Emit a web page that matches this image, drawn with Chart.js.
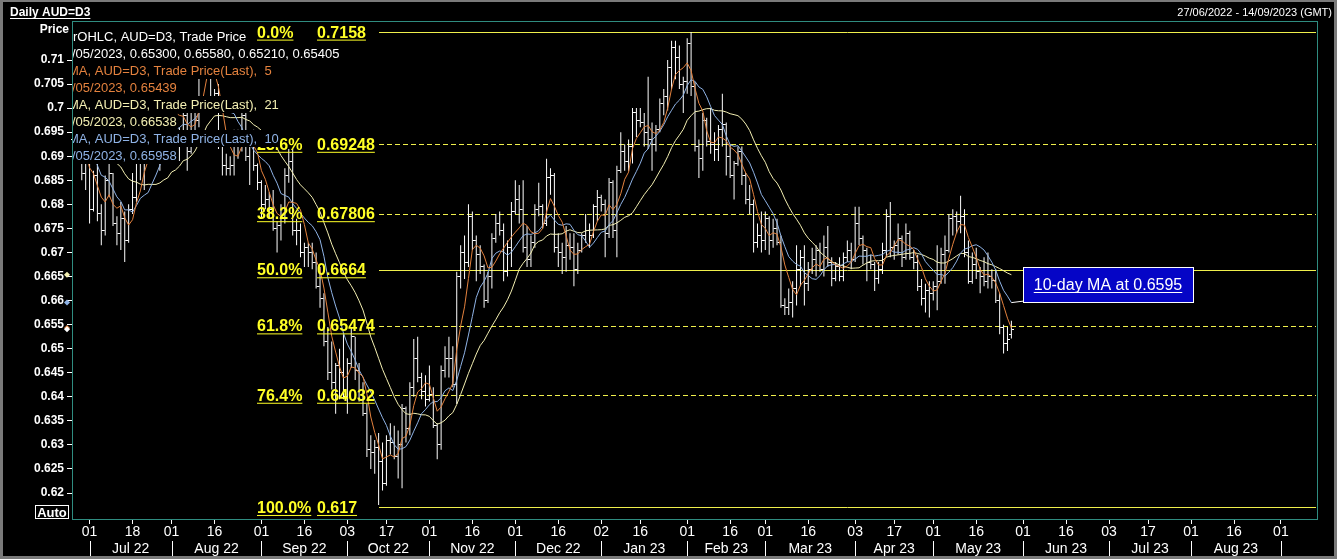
<!DOCTYPE html>
<html>
<head>
<meta charset="utf-8">
<script src="https://cdn.jsdelivr.net/npm/chart.js@4.4.0/dist/chart.umd.min.js"></script>
<style>
  html, body { margin: 0; padding: 0; background: #000; }
  canvas { display: block; }
</style>
</head>
<body>
<canvas id="myChart" width="1337" height="559"></canvas>
<script>
// axis domain -------------------------------------
const firstDay = '2022-06-27';
const lastDay = '2023-09-14';

const xTickDates = ['2022-07-01', '2022-07-18', '2022-08-01', '2022-08-16', '2022-09-01', '2022-09-16',
  '2022-10-03', '2022-10-17', '2022-11-01', '2022-11-16', '2022-12-01', '2022-12-16', '2023-01-02',
  '2023-01-16', '2023-02-01', '2023-02-16', '2023-03-01', '2023-03-16', '2023-04-03', '2023-04-17',
  '2023-05-01', '2023-05-16', '2023-06-01', '2023-06-16', '2023-07-03', '2023-07-17', '2023-08-01',
  '2023-08-16', '2023-09-01'];
const monthStarts = ['2022-07-01', '2022-08-01', '2022-09-01', '2022-10-03', '2022-11-01', '2022-12-01',
  '2023-01-02', '2023-02-01', '2023-03-01', '2023-04-03', '2023-05-01', '2023-06-01', '2023-07-03',
  '2023-08-01', '2023-09-01'];
const monthLabels = ['Jul 22', 'Aug 22', 'Sep 22', 'Oct 22', 'Nov 22', 'Dec 22', 'Jan 23', 'Feb 23',
  'Mar 23', 'Apr 23', 'May 23', 'Jun 23', 'Jul 23', 'Aug 23'];
const yTicks = [0.62, 0.625, 0.63, 0.635, 0.64, 0.645, 0.65, 0.655, 0.66, 0.665, 0.67, 0.675, 0.68,
  0.685, 0.69, 0.695, 0.7, 0.705, 0.71];

// daily bars, 27/06/2022 .. 29/05/2023 ------------------------
const opens = [
  .6935, .6920, .6905, .6865, .6900, .6790, .6860, .6780, .6745, .6850,
  .6865, .6760, .6740, .6770, .6725, .6790, .6815, .6915, .6895, .6915,
  .6920, .6945, .6920, .6970, .6995, .6990, .7045, .6950, .6945, .6985,
  .6910, .7015, .6975, .7085, .7110, .7125, .7020, .7030, .6935, .6880,
  .6875, .6880, .6945, .6920, .6985, .6900, .6925, .6880, .6845, .6800,
  .6810, .6790, .6750, .6755, .6770, .6860, .6890, .6745, .6745, .6700,
  .6710, .6700, .6680, .6630, .6605, .6515, .6450, .6430, .6465, .6450,
  .6400, .6470, .6525, .6455, .6395, .6365, .6290, .6285, .6295, .6265,
  .6220, .6310, .6305, .6275, .6300, .6375, .6335, .6420, .6480, .6440,
  .6410, .6395, .6405, .6340, .6300, .6455, .6480, .6480, .6425, .6650,
  .6700, .6680, .6775, .6725, .6695, .6670, .6600, .6650, .6730, .6760,
  .6745, .6660, .6710, .6785, .6810, .6790, .6710, .6685, .6720, .6790,
  .6795, .6760, .6855, .6860, .6710, .6700, .6690, .6715, .6710, .6665,
  .6705, .6735, .6745, .6735, .6795, .6815, .6800, .6740, .6845, .6745,
  .6870, .6910, .6890, .6920, .6990, .6975, .6970, .6950, .6935, .6925,
  .6955, .7010, .7025, .7085, .7125, .7105, .7050, .7055, .7135, .7045,
  .6920, .6895, .6975, .6930, .6925, .6915, .6955, .6965, .6900, .6860,
  .6885, .6910, .6860, .6810, .6800, .6720, .6735, .6725, .6770, .6725,
  .6750, .6720, .6590, .6585, .6595, .6625, .6665, .6690, .6635, .6665,
  .6685, .6705, .6665, .6710, .6680, .6645, .6670, .6650, .6690, .6705,
  .6685, .6760, .6730, .6705, .6680, .6675, .6645, .6665, .6705, .6775,
  .6710, .6715, .6730, .6690, .6740, .6690, .6680, .6630, .6605, .6620,
  .6615, .6630, .6640, .6695, .6705, .6770, .6775, .6765, .6775, .6700,
  .6640, .6675, .6660, .6650, .6640, .6650, .6642, .6600, .6545, .6510, .6530
];
const highs = [
  .6965, .6960, .6915, .6905, .6905, .6870, .6895, .6800, .6860, .6885,
  .6865, .6775, .6805, .6785, .6800, .6865, .6920, .6925, .6920, .6960,
  .6965, .6955, .6985, .7020, .7010, .7050, .7050, .6960, .7000, .6995,
  .7020, .7020, .7100, .7137, .7135, .7130, .7040, .7050, .6950, .6905,
  .6900, .6955, .6955, .6995, .7010, .6935, .6955, .6885, .6850, .6840,
  .6825, .6830, .6765, .6800, .6875, .6915, .6915, .6770, .6760, .6720,
  .6720, .6720, .6700, .6670, .6615, .6545, .6515, .6470, .6500, .6530,
  .6480, .6545, .6525, .6470, .6430, .6385, .6320, .6310, .6325, .6305,
  .6320, .6345, .6340, .6330, .6385, .6380, .6430, .6520, .6525, .6450,
  .6445, .6465, .6420, .6345, .6465, .6505, .6525, .6505, .6660, .6715,
  .6735, .6800, .6785, .6735, .6715, .6675, .6660, .6740, .6780, .6785,
  .6760, .6725, .6805, .6850, .6840, .6850, .6755, .6735, .6800, .6845,
  .6800, .6895, .6875, .6865, .6740, .6720, .6755, .6740, .6740, .6720,
  .6740, .6780, .6760, .6800, .6830, .6820, .6810, .6855, .6850, .6880,
  .6950, .6925, .6935, .7000, .7000, .7000, .6990, .7065, .6970, .6965,
  .7020, .7040, .7100, .7140, .7140, .7130, .7065, .7145, .7158, .7055,
  .6935, .6990, .6980, .7000, .6950, .6965, .7030, .6970, .6925, .6890,
  .6920, .6920, .6865, .6840, .6810, .6760, .6785, .6785, .6775, .6770,
  .6770, .6735, .6605, .6625, .6640, .6715, .6705, .6715, .6680, .6710,
  .6715, .6720, .6735, .6755, .6690, .6680, .6690, .6700, .6725, .6720,
  .6795, .6795, .6735, .6710, .6695, .6680, .6680, .6720, .6790, .6805,
  .6725, .6760, .6735, .6760, .6745, .6705, .6695, .6645, .6635, .6640,
  .6640, .6715, .6710, .6735, .6780, .6790, .6785, .6818, .6790, .6725,
  .6700, .6710, .6670, .6690, .6700, .6665, .6665, .6615, .6550, .6545, .6558
];
const lows = [
  .6905, .6895, .6850, .6830, .6760, .6785, .6765, .6715, .6735, .6815,
  .6755, .6715, .6705, .6680, .6720, .6780, .6805, .6850, .6830, .6900,
  .6915, .6910, .6870, .6955, .6965, .6985, .6915, .6890, .6925, .6870,
  .6905, .6950, .6960, .7065, .7080, .7010, .6990, .6915, .6860, .6860,
  .6860, .6860, .6895, .6910, .6890, .6840, .6870, .6830, .6770, .6790,
  .6770, .6745, .6700, .6725, .6760, .6845, .6735, .6715, .6690, .6670,
  .6670, .6665, .6625, .6585, .6505, .6435, .6415, .6365, .6395, .6395,
  .6365, .6460, .6435, .6390, .6360, .6275, .6250, .6240, .6175, .6205,
  .6215, .6280, .6270, .6230, .6210, .6305, .6320, .6400, .6430, .6395,
  .6380, .6390, .6335, .6270, .6290, .6440, .6440, .6420, .6385, .6625,
  .6645, .6670, .6705, .6640, .6655, .6585, .6595, .6625, .6720, .6735,
  .6640, .6650, .6670, .6780, .6760, .6700, .6670, .6670, .6710, .6775,
  .6750, .6755, .6820, .6700, .6670, .6655, .6660, .6685, .6630, .6655,
  .6700, .6720, .6710, .6730, .6765, .6785, .6690, .6730, .6730, .6690,
  .6865, .6870, .6870, .6885, .6940, .6960, .6920, .6915, .6870, .6910,
  .6950, .6985, .6995, .7040, .7060, .7040, .6990, .7030, .7025, .6910,
  .6855, .6870, .6920, .6905, .6890, .6890, .6920, .6860, .6855, .6810,
  .6880, .6840, .6800, .6780, .6700, .6710, .6700, .6705, .6695, .6710,
  .6715, .6585, .6570, .6570, .6565, .6590, .6630, .6590, .6620, .6655,
  .6650, .6660, .6650, .6670, .6630, .6640, .6640, .6640, .6680, .6665,
  .6680, .6715, .6675, .6640, .6665, .6620, .6635, .6655, .6690, .6690,
  .6685, .6695, .6670, .6685, .6685, .6665, .6620, .6590, .6575, .6565,
  .6600, .6580, .6635, .6635, .6700, .6735, .6740, .6740, .6690, .6635,
  .6635, .6645, .6615, .6630, .6625, .6625, .6595, .6530, .6490, .6495, .6521
];
const closes = [
  .6920, .6905, .6865, .6900, .6790, .6860, .6780, .6745, .6850, .6865,
  .6760, .6740, .6770, .6725, .6790, .6815, .6915, .6895, .6915, .6920,
  .6945, .6920, .6970, .6995, .6990, .7045, .6950, .6945, .6985, .6910,
  .7015, .6975, .7085, .7110, .7125, .7020, .7030, .6935, .6880, .6875,
  .6880, .6945, .6920, .6985, .6900, .6925, .6880, .6845, .6800, .6810,
  .6790, .6750, .6755, .6770, .6860, .6890, .6745, .6745, .6700, .6710,
  .6700, .6680, .6630, .6605, .6515, .6450, .6430, .6465, .6450, .6400,
  .6470, .6525, .6455, .6395, .6365, .6290, .6285, .6295, .6265, .6220,
  .6310, .6305, .6275, .6300, .6375, .6335, .6420, .6480, .6440, .6410,
  .6395, .6405, .6340, .6300, .6455, .6480, .6480, .6425, .6650, .6700,
  .6680, .6775, .6725, .6695, .6670, .6600, .6650, .6730, .6760, .6745,
  .6660, .6710, .6785, .6810, .6790, .6710, .6685, .6720, .6790, .6795,
  .6760, .6855, .6860, .6710, .6700, .6690, .6715, .6710, .6665, .6705,
  .6735, .6745, .6735, .6795, .6815, .6800, .6740, .6845, .6745, .6870,
  .6910, .6890, .6920, .6990, .6975, .6970, .6950, .6935, .6925, .6955,
  .7010, .7025, .7085, .7125, .7105, .7050, .7055, .7135, .7045, .6920,
  .6895, .6975, .6930, .6925, .6915, .6955, .6965, .6900, .6860, .6885,
  .6910, .6860, .6810, .6800, .6720, .6735, .6725, .6770, .6725, .6750,
  .6720, .6590, .6585, .6595, .6625, .6665, .6690, .6635, .6665, .6685,
  .6705, .6665, .6710, .6680, .6645, .6670, .6650, .6690, .6705, .6685,
  .6760, .6730, .6705, .6680, .6675, .6645, .6665, .6705, .6775, .6710,
  .6715, .6730, .6690, .6740, .6690, .6680, .6630, .6605, .6620, .6615,
  .6630, .6640, .6695, .6705, .6770, .6775, .6765, .6775, .6700, .6640,
  .6675, .6660, .6650, .6640, .6650, .6642, .6600, .6545, .6510, .6520, .65405
];
// closes before the first bar, only used to start the moving averages
const priorCloses = [.7185, .7175, .7160, .7235, .7205, .7200, .7230, .7200, .7100, .7050,
  .6920, .6925, .7020, .7015, .6915, .6955, .6985, .6950, .6890, .6950];

// retracement levels --------------------------------
const fibStartDate = '2022-10-13';
const fibLevels = [0.7158, 0.69248, 0.67806, 0.6664, 0.65474, 0.64032, 0.617];
const fibPercents = ['0.0%', '23.6%', '38.2%', '50.0%', '61.8%', '76.4%', '100.0%'];
const fibDashed = [false, true, true, false, true, true, false];

const legendLines = [
  ['rOHLC, AUD=D3, Trade Price', '#ffffff', 1],
  ['/05/2023, 0.65300, 0.65580, 0.65210, 0.65405', '#ffffff', 0],
  ['MA, AUD=D3, Trade Price(Last),  5', '#e4823e', -4],
  ['/05/2023, 0.65439', '#e4823e', 0],
  ['MA, AUD=D3, Trade Price(Last),  21', '#f3efb2', -4],
  ['/05/2023, 0.66538', '#f3efb2', 0],
  ['MA, AUD=D3, Trade Price(Last),  10', '#8fb3e6', -4],
  ['/05/2023, 0.65958', '#8fb3e6', 0],
];
const noteText = '10-day MA at 0.6595';

const teal = '#2f8c80';
const sans = "'Liberation Sans', Arial, sans-serif";
const narrow = "'Liberation Sans Narrow', 'Liberation Sans', Arial, sans-serif";

// helpers ------------------------------------
function weekdays(from, to) {
  const out = [];
  const d = new Date(from + 'T00:00:00Z');
  const end = new Date(to + 'T00:00:00Z');
  while (d <= end) {
    const wd = d.getUTCDay();
    if (wd !== 0 && wd !== 6) out.push(d.toISOString().slice(0, 10));
    d.setUTCDate(d.getUTCDate() + 1);
  }
  return out;
}
function movingAverage(n) {
  const all = priorCloses.concat(closes);
  return closes.map(function (c, i) {
    const end = i + priorCloses.length;
    let sum = 0;
    for (let k = end - n + 1; k <= end; k++) sum += all[k];
    return sum / n;
  });
}
function tickImage(left) {
  const c = document.createElement('canvas');
  c.width = 5;
  c.height = 1;
  const g = c.getContext('2d');
  g.fillStyle = '#ffffff';
  g.fillRect(left ? 0 : 3, 0, 2, 1);
  return c;
}
function underlined(c, text, x, baseline) {
  c.fillText(text, x, baseline);
  const w = c.measureText(text).width;
  const align = c.textAlign;
  const x0 = align === 'right' ? x - w : align === 'center' ? x - w / 2 : x;
  c.fillRect(x0, baseline + 2, w, 1);
  return w;
}

const dates = weekdays(firstDay, lastDay);
const ranges = highs.map((h, i) => [lows[i], h]);
const ma5 = movingAverage(5);
const ma10 = movingAverage(10);
const ma21 = movingAverage(21);
const lastIdx = closes.length - 1;

// plugins ------------------------------------
const frame = {
  id: 'frame',
  beforeDraw(chart) {
    const c = chart.ctx;
    c.save();
    c.fillStyle = '#7a7a7a';
    c.fillRect(0, 0, chart.width, chart.height);
    c.fillStyle = '#000000';
    c.fillRect(3, 2, chart.width - 6, chart.height - 5);
    c.restore();
  },
  beforeDatasetsDraw(chart) {
    const c = chart.ctx, a = chart.chartArea;
    const x0 = chart.scales.x.getPixelForValue(dates.indexOf(fibStartDate));
    c.save();
    c.beginPath();
    c.rect(a.left, a.top, a.right - a.left, a.bottom - a.top);
    c.clip();
    c.strokeStyle = '#f0f04c';
    c.lineWidth = 1;
    fibLevels.forEach(function (v, i) {
      const y = Math.round(chart.scales.y.getPixelForValue(v)) + 0.5;
      c.setLineDash(fibDashed[i] ? [5, 3] : []);
      c.beginPath();
      c.moveTo(Math.round(x0), y);
      c.lineTo(a.right - 2, y);
      c.stroke();
    });
    c.restore();
  },
  afterDatasetsDraw(chart) {
    const c = chart.ctx, a = chart.chartArea;
    const xs = chart.scales.x, ys = chart.scales.y;
    const x0 = Math.round(xs.getPixelForValue(dates.indexOf(fibStartDate)));
    c.save();
    c.beginPath();
    c.rect(a.left, a.top, a.right - a.left, a.bottom - a.top);
    c.clip();

    // fibonacci labels
    c.font = 'bold 16px ' + sans;
    c.fillStyle = '#ffff26';
    c.textAlign = 'left';
    fibLevels.forEach(function (v, i) {
      const y = ys.getPixelForValue(v);
      underlined(c, fibPercents[i], x0 - 122, y + 5.5);
      underlined(c, String(v), x0 - 62, y + 5.5);
    });

    // legend rows, drawn with an opaque background
    c.font = '13px ' + sans;
    legendLines.forEach(function (row, k) {
      const cy = 36.5 + 17 * k;
      const w = c.measureText(row[0]).width;
      c.fillStyle = '#000000';
      c.fillRect(a.left, cy - 8.5, w + row[2] + 1, 17);
      c.fillStyle = row[1];
      c.fillText(row[0], a.left + row[2], cy + 4.5);
    });

    // 10-day MA note
    const px = xs.getPixelForValue(lastIdx);
    const py = ys.getPixelForValue(ma10[lastIdx]);
    c.strokeStyle = '#ffffff';
    c.lineWidth = 1;
    c.beginPath();
    c.moveTo(px, py);
    c.lineTo(px + 12, py - 1.5);
    c.stroke();
    const bx = Math.round(px + 12), by = Math.round(py - 36);
    c.fillStyle = '#0505c6';
    c.fillRect(bx, by, 170, 35);
    c.strokeRect(bx + 0.5, by + 0.5, 170, 35);
    c.fillStyle = '#ffffff';
    c.font = '16px ' + sans;
    c.textAlign = 'center';
    underlined(c, noteText, bx + 85, by + 23);
    c.restore();
  },
  afterDraw(chart) {
    const c = chart.ctx, a = chart.chartArea;
    const xs = chart.scales.x, ys = chart.scales.y;
    c.save();
    // plot frame
    c.strokeStyle = teal;
    c.lineWidth = 1;
    c.strokeRect(a.left + 0.5, a.top - 0.5, a.right - a.left - 1, a.bottom - a.top + 1);

    // header
    c.fillStyle = '#ffffff';
    c.font = 'bold 12px ' + sans;
    c.textAlign = 'left';
    underlined(c, 'Daily AUD=D3', 10, 16);
    c.font = '11px ' + sans;
    c.textAlign = 'right';
    c.fillText('27/06/2022 - 14/09/2023 (GMT)', 1332, 16);

    // y axis title and Auto box
    c.font = 'bold 12px ' + sans;
    c.fillText('Price', 69, 33);
    c.strokeStyle = '#ffffff';
    c.strokeRect(35.5, 505.5, 33, 13);
    c.font = 'bold 13px ' + sans;
    c.textAlign = 'center';
    c.fillText('Auto', 52, 517);

    // month row
    const ms = monthStarts.map(d => xs.getPixelForValue(dates.indexOf(d)));
    c.fillStyle = '#ffffff';
    ms.forEach(function (x) { c.fillRect(Math.round(x), 541, 1, 15); });
    c.font = '14px ' + narrow;
    monthLabels.forEach(function (t, i) { c.fillText(t, (ms[i] + ms[i + 1]) / 2, 553); });

    // last value markers
    const marks = [[ma21[lastIdx], '#f3efb2'], [ma10[lastIdx], '#8fb3e6'],
      [ma5[lastIdx], '#e4823e'], [closes[lastIdx], '#ffffff']];
    marks.forEach(function (m) {
      const y = ys.getPixelForValue(m[0]);
      c.fillStyle = m[1];
      c.beginPath();
      c.moveTo(67, y - 3); c.lineTo(70, y); c.lineTo(67, y + 3); c.lineTo(64, y);
      c.closePath();
      c.fill();
    });
    c.restore();
  }
};

// chart ------------------------------------
const ctx = document.getElementById('myChart');
const chart = new Chart(ctx, {
  type: 'bar',
  data: {
    labels: dates,
    datasets: [
      { type: 'line', label: 'MA 5', data: ma5, borderColor: '#e4823e', borderWidth: 1, pointRadius: 0, tension: 0, order: 1 },
      { type: 'line', label: 'MA 10', data: ma10, borderColor: '#8fb3e6', borderWidth: 1, pointRadius: 0, tension: 0, order: 2 },
      { type: 'line', label: 'MA 21', data: ma21, borderColor: '#f3efb2', borderWidth: 1, pointRadius: 0, tension: 0, order: 3 },
      { type: 'line', label: 'Open', data: opens, showLine: false, pointStyle: tickImage(true), pointRadius: 2, order: 4 },
      { type: 'line', label: 'Close', data: closes, showLine: false, pointStyle: tickImage(false), pointRadius: 2, order: 4 },
      { type: 'bar', label: 'High-Low', data: ranges, backgroundColor: '#ffffff', borderWidth: 0, barThickness: 1, inflateAmount: 0, order: 5 },
    ],
  },
  options: {
    responsive: false,
    animation: false,
    devicePixelRatio: 1,
    events: [],
    layout: { padding: { top: 22, right: 19, left: 0, bottom: 0 } },
    plugins: { legend: { display: false }, tooltip: { enabled: false } },
    scales: {
      x: {
        type: 'category',
        offset: true,
        afterBuildTicks: s => { s.ticks = xTickDates.map(d => ({ value: dates.indexOf(d) })); },
        afterFit: s => { s.height = 40; },
        grid: { offset: false, drawOnChartArea: false, drawTicks: true, tickLength: 5, color: '#ffffff' },
        border: { display: false },
        ticks: {
          autoSkip: false, maxRotation: 0, minRotation: 0, padding: 0, color: '#ffffff',
          font: { family: narrow, size: 14 },
          callback: function (v) { return this.getLabelForValue(v).slice(8); },
        },
      },
      y: {
        min: 0.6146,
        max: 0.7179,
        afterBuildTicks: s => { s.ticks = yTicks.map(v => ({ value: v })); },
        afterFit: s => { s.width = 72; },
        grid: { drawOnChartArea: false, tickLength: 5, color: '#ffffff' },
        border: { display: false },
        ticks: {
          padding: 3, color: '#ffffff',
          font: { family: sans, size: 12, weight: 'bold' },
          callback: v => String(+v.toFixed(3)),
        },
      },
    },
  },
  plugins: [frame],
});
</script>
</body>
</html>
